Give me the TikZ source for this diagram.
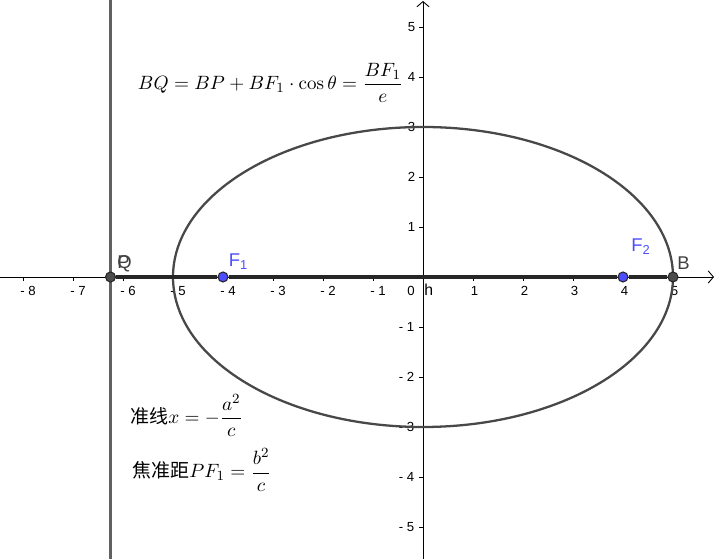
\documentclass[tikz,border=0pt]{standalone}
\usepackage{amsmath}
\usepackage{amssymb}
\usepackage{fontspec}
\setsansfont{Liberation Sans}
\newfontfamily\cjk{Noto Sans CJK SC}
\usepackage{tikz}
\usetikzlibrary{arrows.meta, positioning}
\usepackage{xcolor}
\definecolor{ggblue}{HTML}{4D4DFF}
\definecolor{ggcurve}{HTML}{484848}

\begin{document}
\begin{tikzpicture}[font=\sffamily\fontsize{7.5}{9}\selectfont]
  \useasboundingbox (-8.46,-5.64) rectangle (5.86,5.54);
  \tikzstyle{ticklab}=[inner sep=0pt]
  \tikzstyle{axis}=[line width=0.5pt,-{Straight Barb[length=3pt,width=7pt]}]
  \tikzstyle{pt}=[circle,draw=black!85,fill=black!70,line width=0.6pt,inner sep=0pt,minimum size=0.2cm]
  \tikzstyle{focus}=[pt,fill=ggblue]
  \tikzstyle{ptlab}=[anchor=base west,inner sep=0pt,font=\sffamily\fontsize{10.5}{12}\selectfont]
  \tikzstyle{formula}=[inner sep=0pt,font=\fontsize{10.8}{13}\selectfont]

  % axes
  \coordinate (xl) at (-8.46,0);
  \coordinate (xr) at (5.82,0);
  \coordinate (yb) at (0,-5.64);
  \coordinate (yt) at (0,5.52);
  \draw[axis] (xl) -- (xr);
  \draw[axis] (yb) -- (yt);

  % ticks
  \foreach \x in {1,...,8} {
    \draw[line width=0.5pt] (-\x,0) -- ++(0,-0.08);
    \node[ticklab,anchor=north] at (-\x+0.1,-0.18) {- \x};
  }
  \foreach \x in {1,...,5} {
    \draw[line width=0.5pt] (\x,0) -- ++(0,-0.08);
    \node[ticklab,anchor=north] at (\x+0.03,-0.18) {\x};
  }
  \foreach \y in {1,...,5} {
    \draw[line width=0.5pt] (0,\y) -- ++(-0.08,0);
    \node[ticklab,anchor=east] at (-0.15,\y) {\y};
    \draw[line width=0.5pt] (0,-\y) -- ++(-0.08,0);
    \node[ticklab,anchor=east] at (-0.17,-\y) {- \y};
  }
  \node[ticklab,anchor=north east] (orig) at (-0.16,-0.18) {0};
  \node[ticklab,anchor=north west,font=\sffamily\fontsize{9}{11}\selectfont] (h) at (0.02,-0.14) {h};

  % ellipse and directrix
  \draw[ggcurve,line width=1.3pt] (0,0) ellipse (5 and 3);
  \coordinate (d1) at (-6.25,-5.64);
  \coordinate (d2) at (-6.25,5.54);
  \draw[black!62,line width=1.2pt] (d1) -- (d2);

  % points
  \node[pt]    (P)  at (-6.25,0) {};
  \node[focus] (F1) at (-4,0)    {};
  \node[focus] (F2) at (4,0)     {};
  \node[pt]    (B)  at (5,0)     {};

  \path[draw=black!85,line width=1.8pt]
  (P)  edge (F1)
  (F1) edge (F2)
  (F2) edge (B)
  ;

  \node[ptlab,black!75] (Plab)  at ([shift={(0.13,0.16)}]P.center)  {P};
  \node[ptlab,black!75] (Qlab)  at (Plab.base west)                 {Q};
  \node[ptlab,ggblue]   (F1lab) at ([shift={(0.11,0.2)}]F1.center)  {F\textsubscript{1}};
  \node[ptlab,ggblue]   (F2lab) at ([shift={(0.16,0.5)}]F2.center)  {F\textsubscript{2}};
  \node[ptlab,black!75] (Blab)  at ([shift={(0.08,0.14)}]B.center)  {B};

  % formulas
  \node[formula] (bq) at (-3.05,3.88) {$BQ=BP+BF_1\cdot\cos\theta=\dfrac{BF_1}{e}$};
  \node[formula,anchor=west] (dirx) at (-5.86,-2.77) {{\cjk 准线}$x=-\dfrac{a^2}{c}$};
  \node[formula,anchor=west] (focd) at (-5.82,-3.86) {{\cjk 焦准距}$PF_1=\dfrac{b^2}{c}$};
\end{tikzpicture}
\end{document}
